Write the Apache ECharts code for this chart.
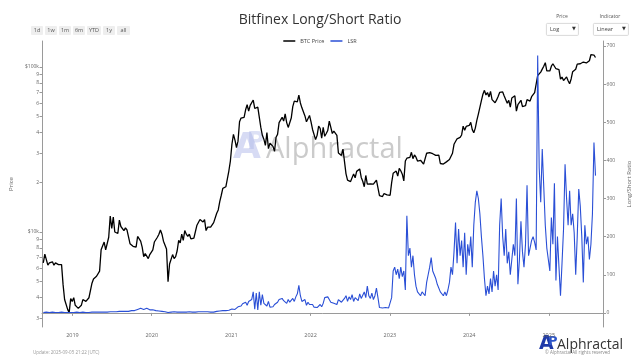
<!DOCTYPE html>
<html>
<head>
<meta charset="utf-8">
<script src="https://cdn.jsdelivr.net/npm/echarts@6/dist/echarts.min.js"></script>
<style>html,body{margin:0;padding:0;background:#fff;}#c{width:640px;height:360px;}</style>
</head>
<body>
<div id="c"></div>
<script>
// ---- DATA (weekly samples) ----
const titleText = 'Bitfinex Long/Short Ratio';
const seriesNames = ['BTC Price', 'LSR'];
// first Monday of each yearly block [year, monthIndex, day]
const weekStarts = {
  2018: [2018, 7, 20], 2019: [2019, 0, 7], 2020: [2020, 0, 6], 2021: [2021, 0, 4],
  2022: [2022, 0, 3], 2023: [2023, 0, 2], 2024: [2024, 0, 1], 2025: [2025, 0, 6]
};
const btc2018 = [6500,7350,7200,6300,6500,6650,6600,6300,6500,6450,6350,6450,6350,4800,3900,3800,3400,3250,3950,3800];
const btc2019 = [4000,3600,3550,3450, 3400,3600,3900,3800, 3800,3900,4000,4000, 4900,5200,5200,5400,5500,
  5800,7800,8000,8700, 7800,8000,9300,12500, 10500,12300,10000,10000,9800, 11800,10800,10900,10200,
  10600,10300,10200,8500,8300, 8200,8300,8100,9400, 9300,8800,8100,7100, 7400,7200,6900,7300,7300];
const btc2020 = [7800,8700,8600,9300, 9700,10300,9700,8800, 8900,7900,5000,6400,6400, 7300,6900,7100,7700,
  8900,8600,9700,8900, 10200,9700,9400,9700,9100, 9300,9200,9400,11000, 11200,11900,11900,11500,11900,
  10200,10700,10500,10700, 10700,11400,11700,13000, 13600,15300,16700,18400,18800, 18800,19200,23500,27000];
const btc2021 = [34000,39000,36000,32500, 35500,46500,49000,48000, 49500,55000,59000,54000,58500,
  58500,63000,56000,54500, 57000,56000,43000,38500,36500, 33500,40000,32000,34500, 33900,33000,30800,37500,
  39000,46000,45500,49500,47000, 52000,46000,43000,42000, 49000,57500,62000,61000,
  61500,67500,60500,56500,57500, 50500,46500,46500,50800];
const btc2022 = [46500,41800,42200,36300,38500, 43800,42500,37000,43000, 38000,39500,41200,47000,
  46600,39500,40800,40400, 38500,30100,29800,29100,31800, 31400,22500,20600,20700, 20200,19900,22500,21300,
  23300,23800,24100,21400,20300, 18800,22000,19500,19200, 19600,19100,19500,19600,20600,
  20600,16600,16300,16400, 17100,17100,16800,16900];
const btc2023 = [16700,19900,22700,23000,23400, 21800,24300,23500,22400, 20400,26900,28000,28400,
  28300,30400,27800,29300, 28400,26900,26800,27200,27100, 25800,25100,30000,30400,
  30300,30300,29800,29300,29100, 29400,29200,26000,26000, 25800,26500,26600,26900,
  27500,26900,30000,34000,34700, 36700,36600,37400,38700, 43800,41300,43600,42600];
const btc2024 = [44200,46200,41700,39900,42600, 47500,51800,51700,62500, 68300,72100,67600,69900,
  65800,71000,63400,64900,60700, 63100,66200,70000,68500, 70500,66700,65000,60300,
  62700,57000,64800,66000,66800, 54000,59000,59500,62800, 57500,57000,58200,63300,63300,
  62100,66000,67300,69900, 68800,88700,90500,93000, 97000,101000,106000,94700,93400];
const btc2025 = [94500,101000,104500,102500, 97500,97500,96200,84400, 86800,82600,84000,87000,82500,
  79000,84500,93500,94200, 96800,104000,105600,104500, 105500,107000,106800,105600,107000,
  109000,118500,117000,118000, 114000];

const lsr2018 = [1,1,2,1,1,1,2,1,1,1,1,1,2,1,1,1,1,1,1,1];
const lsr2019 = [1,1,2,1, 1,1,2,1, 1,2,1,1, 2,1,2,1,2, 2,2,3,2, 3,2,3,3, 4,3,4,3,4, 4,3,4,5,
  4,5,4,5,6, 5,6,8,9, 10,12,11,9, 10,12,9,8,7];
const lsr2020 = [8,7,6,6, 5,6,4,4, 3,2,1,2,2, 2,3,2,2, 3,2,3,2, 3,2,2,3,2, 2,3,2,3, 3,2,3,2,3,
  2,3,3,2, 3,2,3,4, 4,5,4,6,5, 6,8,7,9];
const lsr2021 = [10,12,9,14, 16,20,18,24, 22,28,20,30,26, 35,55,10,52, 8,55,20,48,25, 22,18,30,15,
  20,16,22,18, 28,35,30,38,32, 30,25,35,28, 32,38,30,42, 50,72,45,30,25, 35,20,28,22];
const lsr2022 = [18,22,15,20,14, 18,22,16,25, 40,45,42,35, 28,32,25,30, 22,35,40,28,32, 38,45,30,42,
  35,48,30,40, 45,32,50,38,42, 55,40,70,45, 38,52,35,45,65, 40,14,12,13, 12,14,11,13];
const lsr2023 = [15,40,110,120,100, 115,90,120,95, 110,60,255,150, 170,120,150,100, 70,55,50,45,55,
  50,45,80,100, 120,145,110,100,90, 75,70,55,50, 45,55,45,60, 80,120,100,160,237,
  130,220,150,190, 120,210,100,180];
const lsr2024 = [150,200,120,230,290, 320,300,260,200, 150,90,45,70, 50,90,55,110,70, 100,60,230,300,
  200,150,220,130, 160,100,140,180,150, 300,75,140,240, 160,120,180,335,150, 170,190,200,185,
  165,675,380,290, 430,330,230,170,140];
const lsr2025 = [110,250,180,340, 85,200,120,45, 130,220,390,300,230, 320,230,260,210, 100,200,325,280,
  200,80,230,180,200, 140,180,260,447, 360];

const btcByYear = {2018: btc2018, 2019: btc2019, 2020: btc2020, 2021: btc2021, 2022: btc2022, 2023: btc2023, 2024: btc2024, 2025: btc2025};
const lsrByYear = {2018: lsr2018, 2019: lsr2019, 2020: lsr2020, 2021: lsr2021, 2022: lsr2022, 2023: lsr2023, 2024: lsr2024, 2025: lsr2025};

const yearTicks = [2019, 2020, 2021, 2022, 2023, 2024, 2025];
const priceTicks = [3000,4000,5000,6000,7000,8000,9000,10000,20000,30000,40000,50000,60000,70000,80000,90000,100000];
const lsrTicks = [0,100,200,300,400,500,600,700];
const rangeButtons = ['1d','1w','1m','6m','YTD','1y','all'];

// ---- build series pairs ----
function build(byYear) {
  const out = [];
  Object.keys(weekStarts).forEach(function (y) {
    const s = weekStarts[y];
    byYear[y].forEach(function (v, i) {
      out.push([new Date(s[0], s[1], s[2] + 7 * i).getTime(), v]);
    });
  });
  return out;
}
const btcData = build(btcByYear);
const lsrData = build(lsrByYear);
const yearTickTimes = yearTicks.map(function (y) { return new Date(y, 0, 1).getTime(); });

const chart = echarts.init(document.getElementById('c'), null, {renderer: 'canvas'});
const axisGray = '#9a9a9a';
const labelGray = '#666';
const FF = '"Open Sans", "Noto Sans", sans-serif';

// button graphics
const btnX = [31, 45, 59, 73, 87, 103, 117];
const btnW = [12, 12, 12, 12, 14, 12, 13];
const graphics = [];
rangeButtons.forEach(function (b, i) {
  graphics.push({type: 'rect', left: btnX[i], top: 26, shape: {width: btnW[i], height: 9, r: 1},
    style: {fill: '#eeeeee'}});
  graphics.push({type: 'text', x: btnX[i] + btnW[i] / 2, y: 30.5,
    style: {text: b, fontSize: 5.5, fill: '#555', align: 'center', verticalAlign: 'middle', fontFamily: FF}});
});
// dropdowns
graphics.push({type: 'text', x: 562, y: 17, style: {text: 'Price', fontSize: 5, fill: '#555', align: 'center', verticalAlign: 'middle', fontFamily: FF}});
graphics.push({type: 'rect', left: 546, top: 23, shape: {width: 32, height: 12, r: 1}, style: {fill: '#fff', stroke: '#cfcfcf', lineWidth: 0.8}});
graphics.push({type: 'text', x: 550, y: 29, style: {text: 'Log', fontSize: 5.5, fill: '#444', verticalAlign: 'middle', fontFamily: FF}});
graphics.push({type: 'text', x: 572, y: 29, style: {text: '▼', fontSize: 5, fill: '#333', verticalAlign: 'middle', fontFamily: 'DejaVu Sans'}});
graphics.push({type: 'text', x: 610, y: 17, style: {text: 'Indicator', fontSize: 5, fill: '#555', align: 'center', verticalAlign: 'middle', fontFamily: FF}});
graphics.push({type: 'rect', left: 593, top: 23, shape: {width: 35, height: 12, r: 1}, style: {fill: '#fff', stroke: '#cfcfcf', lineWidth: 0.8}});
graphics.push({type: 'text', x: 597, y: 29, style: {text: 'Linear', fontSize: 5.5, fill: '#444', verticalAlign: 'middle', fontFamily: FF}});
graphics.push({type: 'text', x: 622, y: 29, style: {text: '▼', fontSize: 5, fill: '#333', verticalAlign: 'middle', fontFamily: 'DejaVu Sans'}});
// watermark
graphics.push({type: 'text', x: 233, y: 149, z: -1, style: {text: 'A', fontSize: 36, fontWeight: 'bold', fill: 'rgba(150,160,225,0.38)', verticalAlign: 'middle', fontFamily: 'DejaVu Sans'}});
graphics.push({type: 'text', x: 247, y: 143, z: -1, style: {text: 'P', fontSize: 24, fontWeight: 'bold', fill: 'rgba(165,175,230,0.38)', verticalAlign: 'middle', fontFamily: 'DejaVu Sans'}});
graphics.push({type: 'text', x: 266, y: 150, z: -1, style: {text: 'Alphractal', fontSize: 29, fill: 'rgba(160,160,160,0.55)', verticalAlign: 'middle', fontFamily: FF}});
// footer
graphics.push({type: 'text', x: 33, y: 353, style: {text: 'Update: 2025-09-05 21:22 (UTC)', fontSize: 4.5, fill: '#999', verticalAlign: 'middle', fontFamily: FF}});
graphics.push({type: 'text', x: 539, y: 344, style: {text: 'A', fontSize: 19, fontWeight: 'bold', fill: '#1f3aa8', verticalAlign: 'middle', fontFamily: 'DejaVu Sans'}});
graphics.push({type: 'text', x: 548, y: 342, style: {text: 'P', fontSize: 13, fontWeight: 'bold', fill: '#2d55c8', verticalAlign: 'middle', fontFamily: 'DejaVu Sans'}});
graphics.push({type: 'text', x: 557, y: 345, style: {text: 'Alphractal', fontSize: 14, fill: '#333', verticalAlign: 'middle', fontFamily: FF}});
graphics.push({type: 'text', x: 545, y: 353, style: {text: '© Alphractal All rights reserved', fontSize: 4.5, fill: '#888', verticalAlign: 'middle', fontFamily: FF}});

const option = {
  animation: false,
  backgroundColor: '#fff',
  title: {text: titleText, left: 'center', top: 8,
    textStyle: {fontSize: 14, fontWeight: 'normal', color: '#333', fontFamily: FF}},
  legend: {top: 33, left: 'center', itemWidth: 12, itemHeight: 1.5, itemGap: 6, icon: 'rect',
    textStyle: {fontSize: 5.5, color: '#444', fontFamily: FF},
    data: seriesNames},
  grid: {left: 32, right: 31, top: 41, bottom: 33, containLabel: false},
  xAxis: {
    type: 'value',
    min: new Date(2018, 7, 14).getTime(),
    max: new Date(2025, 8, 10).getTime(),
    axisLine: {show: true, lineStyle: {color: axisGray, width: 1}},
    axisTick: {show: true, length: 3, lineStyle: {color: axisGray}, customValues: yearTickTimes},
    axisLabel: {fontSize: 5.5, color: labelGray, margin: 5, fontFamily: FF, customValues: yearTickTimes,
      formatter: function (v) { return String(new Date(v).getFullYear()); }},
    splitLine: {show: false}
  },
  yAxis: [{
    type: 'log', logBase: 10, min: 2660, max: 143500, position: 'left',
    name: 'Price', nameLocation: 'middle', nameGap: 28, nameRotate: 90,
    nameTextStyle: {fontSize: 6, color: labelGray, fontFamily: FF},
    axisLine: {show: true, lineStyle: {color: axisGray, width: 1}},
    axisTick: {show: true, length: 2.5, lineStyle: {color: axisGray}, customValues: priceTicks},
    axisLabel: {fontSize: 5, color: labelGray, margin: 3, fontFamily: FF, customValues: priceTicks,
      formatter: function (v) {
        v = Math.round(v);
        if (v === 10000) return '$10k';
        if (v === 100000) return '$100k';
        return String(v >= 10000 ? Math.round(v / 10000) : Math.round(v / 1000));
      }},
    splitLine: {show: false}
  }, {
    type: 'value', min: -37, max: 713, position: 'right',
    name: 'Long/Short Ratio', nameLocation: 'middle', nameGap: 15, nameRotate: 90,
    nameTextStyle: {fontSize: 6, color: labelGray, fontFamily: FF},
    axisLine: {show: true, lineStyle: {color: axisGray, width: 1}},
    axisTick: {show: true, length: 2.5, lineStyle: {color: axisGray}, customValues: lsrTicks},
    axisLabel: {fontSize: 5, color: labelGray, margin: 3, fontFamily: FF, customValues: lsrTicks},
    splitLine: {show: false}
  }],
  series: [{
    name: seriesNames[0], type: 'line', yAxisIndex: 0, data: btcData, showSymbol: false,
    lineStyle: {color: '#000', width: 1.3}, itemStyle: {color: '#000'}
  }, {
    name: seriesNames[1], type: 'line', yAxisIndex: 1, data: lsrData, showSymbol: false,
    lineStyle: {color: '#2a4fd6', width: 1.1}, itemStyle: {color: '#2a4fd6'}
  }],
  graphic: graphics
};
chart.setOption(option);
</script>
</body>
</html>
